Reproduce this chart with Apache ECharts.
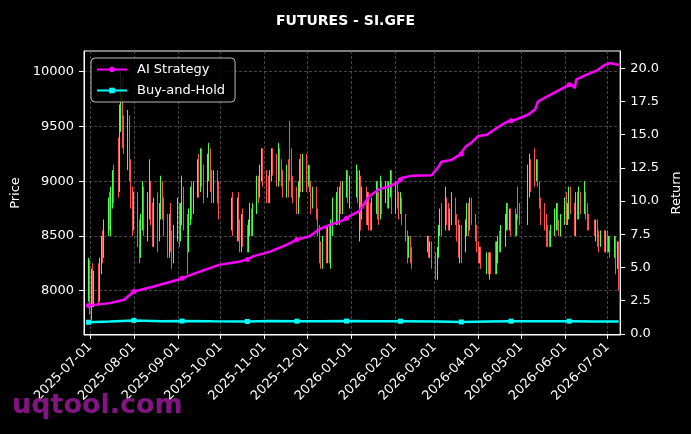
<!DOCTYPE html>
<html><head><meta charset="utf-8">
<script src="https://cdn.jsdelivr.net/npm/echarts@6/dist/echarts.min.js"></script>
<style>html,body{margin:0;padding:0;background:#000}#c{width:691px;height:434px}</style>
</head><body><div id="c"></div>
<script>
// ---- trading calendar (month -> trading days of that month) ----
const tradeMonths = ['2025-06','2025-07','2025-08','2025-09','2025-10','2025-11','2025-12','2026-01','2026-02','2026-03','2026-04','2026-05','2026-06','2026-07'];
const tradeDays = [
  [30],
  [1,2,3,4,7,8,9,10,11,14,15,16,17,18,21,22,23,24,25,28,29,30,31],
  [1,4,5,6,7,8,11,12,13,14,15,18,19,20,21,22,25,26,27,28,29],
  [1,2,3,4,5,8,9,10,11,12,15,16,17,18,19,22,23,24,25,26,29,30],
  [9,10,13,14,15,16,17,20,21,22,23,24,27,28,29,30,31],
  [3,4,5,6,7,10,11,12,13,14,17,18,19,20,21,24,25,26,27,28],
  [1,2,3,4,5,8,9,10,11,12,15,16,17,18,19,22,23,24,25,26,29,30,31],
  [5,6,7,8,9,12,13,14,15,16,19,20,21,22,23,26,27,28,29,30],
  [2,3,4,5,6,9,10,11,12,13,24,25,26,27],
  [2,3,4,5,6,9,10,11,12,13,16,17,18,19,20,23,24,25,26,27,30,31],
  [1,2,3,7,8,9,10,13,14,15,16,17,20,21,22,23,24,27,28,29,30],
  [6,7,8,11,12,13,14,15,18,19,20,21,22,25,26,27,28,29],
  [1,2,3,4,5,8,9,10,11,12,15,16,17,18,22,23,24,25,26,29,30],
  [1,2,3,6,7,8,9]
];
// ---- candles per month: [open, close, low, high] ----
const kJun25 = [[8050,8250,7900,8300]];
const kJul25 = [[8200,7950,7780,8280],[7950,8150,7730,8200],[8150,7900,7850,8250],[7900,8100,7850,8180],[8100,7950,7860,8250],[7950,8250,7900,8300],[8250,8450,8150,8500],[8450,8350,8250,8550],[8350,8600,8300,8650],[8600,8800,8500,8850],[8800,8600,8550,8900],[8600,8850,8500,8950],[8850,9050,8750,9100],[9050,8900,8800,9150],[9350,8950,8850,9400],[8950,9600,8900,9700],[9600,9900,9450,10000],[9900,9500,9300,9950],[9500,9350,9250,9600],[9350,9550,9100,9650],[9550,9100,9000,9600],[9100,8800,8750,9200],[8800,8650,8500,8950]];
const kAug25 = [[8650,8850,8550,8900],[8850,8600,8400,8900],[8550,8350,8250,8650],[8350,8650,8300,8700],[8650,8850,8550,9000],[8850,8600,8500,8950],[8600,8800,8450,8900],[8800,8900,8650,9200],[8900,8700,8600,9000],[8700,8550,8400,8800],[8550,8750,8400,8850],[8750,8500,8350,8900],[8500,8700,8450,8800],[8700,8950,8650,9050],[8950,8750,8650,9000],[8750,8600,8500,8850],[8600,8400,8300,8700],[8400,8600,8300,8700],[8600,8450,8350,8800],[8450,8300,8200,8550],[8300,8550,8250,8600]];
const kSep25 = [[8550,8750,8450,8850],[8750,8500,8400,8800],[8500,8700,8450,8800],[8700,8900,8600,9050],[8900,8650,8550,8950],[8650,8400,8150,8700],[8400,8650,8350,8750],[8650,8900,8600,8950],[8900,8750,8650,9000],[8750,8950,8700,9000],[8950,9150,8850,9200],[9150,8950,8850,9250],[8950,9200,8900,9300],[9200,9100,8950,9300],[9100,8900,8800,9150],[8900,9150,8850,9250],[9150,9250,9000,9350],[9250,9000,8900,9300],[9000,8850,8800,9100],[8850,9050,8800,9100],[9050,8950,8800,9100],[8950,8750,8650,9000]];
const kOct25 = [[8650,8800,8550,8850],[8800,8600,8500,8900],[8600,8750,8450,8850],[8750,8550,8450,8900],[8550,8450,8350,8650],[8450,8650,8350,8700],[8650,8500,8400,8750],[8500,8400,8350,8600],[8400,8600,8350,8650],[8600,8700,8500,8800],[8700,8550,8500,8750],[8550,8750,8500,8800],[8750,9000,8700,9050],[9000,8900,8800,9050],[8900,9100,8850,9150],[9100,9250,9000,9300],[9250,9050,8950,9300]];
const kNov25 = [[9050,8900,8800,9100],[8900,8850,8800,9050],[8850,9050,8800,9100],[9050,9250,9000,9300],[9250,9150,9050,9300],[9150,9000,8950,9250],[9000,9250,8950,9350],[9250,9100,9000,9300],[9100,9050,8950,9200],[9050,8950,8850,9100],[8950,9100,8850,9150],[9100,8950,8850,9200],[9350,9050,9000,9550],[9050,8950,8850,9300],[8950,8850,8800,9050],[8850,8800,8700,8950],[8800,8950,8700,9000],[8950,9150,8850,9200],[9150,8950,8900,9250],[8950,9150,8900,9250]];
const kDec25 = [[9150,9000,8900,9250],[9000,9100,8950,9150],[9100,8950,8900,9150],[8950,8800,8700,9000],[8800,8900,8750,8950],[8900,8700,8650,8950],[8700,8550,8500,8750],[8550,8350,8250,8600],[8350,8250,8200,8450],[8250,8450,8200,8500],[8450,8300,8250,8600],[8300,8550,8250,8600],[8550,8300,8250,8600],[8300,8550,8200,8650],[8550,8700,8500,8850],[8700,8850,8600,8900],[8850,8650,8600,8950],[8650,8900,8600,8950],[8900,8750,8700,9000],[8750,8950,8700,9000],[8950,9050,8850,9100],[9050,8850,8800,9100],[8850,9000,8750,9050]];
const kJan26 = [[9000,9100,8850,9150],[9100,8850,8800,9100],[8850,9050,8450,9100],[9050,8700,8550,9050],[8700,8900,8650,8950],[8900,8700,8600,8950],[8700,8850,8600,8900],[8850,8650,8550,8900],[8650,8600,8550,8800],[8600,8800,8550,8850],[8800,8950,8700,9000],[8950,8750,8650,9000],[8750,8700,8600,8900],[8700,8950,8650,9050],[8950,8850,8700,9000],[8850,8950,8800,9000],[8950,8800,8750,9000],[8800,8950,8750,9000],[8950,9050,8850,9100],[9050,8800,8700,9100]];
const kFeb26 = [[8800,8950,8700,9000],[8950,8850,8750,9000],[8850,8750,8650,8900],[8750,8800,8700,8900],[8800,8650,8600,8850],[8650,8500,8450,8700],[8500,8350,8250,8550],[8350,8450,8300,8500],[8450,8300,8250,8500],[8350,8250,8200,8400],[8400,8450,8350,8500],[8450,8350,8300,8500],[8350,8400,8300,8450],[8400,8250,8200,8450]];
const kMar26 = [[8250,8150,8100,8350],[8150,8350,8100,8400],[8350,8550,8300,8600],[8550,8700,8500,8750],[8700,8600,8500,8800],[8600,8800,8550,8950],[8800,8750,8600,8850],[8750,8600,8550,8800],[8600,8700,8550,8750],[8700,8800,8600,8900],[8800,8650,8600,8850],[8650,8550,8450,8700],[8600,8450,8300,8650],[8300,8550,8250,8600],[8550,8400,8250,8600],[8400,8550,8350,8650],[8550,8700,8500,8800],[8700,8600,8500,8800],[8600,8800,8550,8850],[8800,8650,8600,8850],[8650,8550,8450,8700],[8550,8400,8350,8600]];
const kApr26 = [[8400,8300,8250,8450],[8300,8350,8250,8400],[8350,8250,8200,8400],[8250,8300,8150,8350],[8300,8200,8150,8350],[8200,8300,8100,8350],[8300,8200,8150,8350],[8400,8200,8150,8450],[8200,8300,8150,8450],[8300,8450,8250,8500],[8500,8400,8350,8550],[8400,8500,8350,8600],[8500,8650,8400,8700],[8650,8750,8550,8800],[8750,8600,8550,8800],[8600,8700,8550,8750],[8700,8600,8500,8750],[8600,8550,8500,8750],[8550,8650,8500,8700],[8900,8700,8650,8950],[8700,8650,8600,8800]];
const kMay26 = [[8650,9050,8600,9150],[9050,9150,8850,9250],[9150,9000,8900,9200],[9250,9050,8950,9300],[9050,9150,9000,9200],[9150,9000,8950,9200],[8950,8800,8750,9000],[8800,8700,8600,8850],[8700,8650,8550,8800],[8650,8550,8400,8700],[8550,8500,8400,8600],[8500,8450,8400,8550],[8450,8550,8400,8600],[8550,8650,8500,8750],[8650,8750,8550,8800],[8750,8600,8550,8800],[8600,8550,8500,8650],[8550,8650,8500,8700]];
const kJun26 = [[8650,8800,8600,8850],[8800,8650,8600,8900],[8650,8750,8600,8800],[8750,8900,8650,8950],[8900,8750,8700,8950],[8750,8550,8500,8800],[8550,8850,8500,8900],[8850,8700,8650,8900],[8700,8850,8650,8950],[8850,8750,8700,8900],[8750,8850,8700,9000],[8850,8700,8650,8900],[8700,8650,8550,8800],[8650,8600,8550,8700],[8600,8550,8500,8650],[8550,8600,8450,8650],[8600,8500,8400,8650],[8500,8450,8350,8550],[8450,8500,8400,8550],[8500,8400,8350,8550],[8400,8500,8350,8550]];
const kJul26 = [[8500,8400,8350,8550],[8400,8450,8350,8500],[8450,8350,8300,8500],[8350,8450,8300,8500],[8450,8250,8150,8500],[8250,8400,8200,8450],[8400,8050,8000,8450]];
const monthCandles = [kJun25,kJul25,kAug25,kSep25,kOct25,kNov25,kDec25,kJan26,kFeb26,kMar26,kApr26,kMay26,kJun26,kJul26];

// ---- return curves ----
const aiDates = ['2025-06-30','2025-07-15','2025-07-25','2025-08-01','2025-08-15','2025-09-01','2025-09-04','2025-09-15','2025-09-30','2025-10-15','2025-10-20','2025-10-24','2025-11-05','2025-11-17','2025-11-24','2025-12-03','2025-12-10','2025-12-19','2025-12-26','2025-12-29','2025-12-31','2026-01-07','2026-01-14','2026-01-21','2026-01-28','2026-02-03','2026-02-05','2026-02-06','2026-02-13','2026-02-27','2026-03-04','2026-03-06','2026-03-13','2026-03-19','2026-03-20','2026-03-23','2026-03-27','2026-04-01','2026-04-07','2026-04-14','2026-04-21','2026-04-24','2026-04-28','2026-05-06','2026-05-11','2026-05-13','2026-05-20','2026-05-27','2026-06-03','2026-06-04','2026-06-05','2026-06-08','2026-06-09','2026-06-16','2026-06-23','2026-06-29','2026-07-03','2026-07-09'];
const aiValues = [2.15,2.32,2.57,3.2,3.57,4.08,4.2,4.63,5.2,5.46,5.6,5.84,6.2,6.72,7.1,7.35,7.9,8.28,8.53,8.7,8.86,9.25,10.37,10.9,11.1,11.4,11.6,11.76,11.9,11.95,12.6,12.97,13.1,13.5,13.55,14.1,14.4,14.9,15.0,15.5,15.96,16.05,16.16,16.5,16.9,17.5,17.9,18.3,18.7,18.75,18.8,18.5,19.15,19.5,19.8,20.24,20.4,20.24];
const bhDates = ['2025-06-30','2025-07-15','2025-08-01','2025-08-20','2025-09-04','2025-09-25','2025-10-20','2025-11-05','2025-11-24','2025-12-10','2025-12-29','2026-01-15','2026-02-05','2026-03-02','2026-03-20','2026-04-08','2026-04-24','2026-05-15','2026-06-04','2026-06-22','2026-07-09'];
const bhValues = [0.88,0.93,1.02,0.96,0.97,0.95,0.94,0.97,0.96,0.95,0.97,0.95,0.96,0.94,0.9,0.94,0.96,0.95,0.96,0.94,0.94];
const markerDates = ['2025-06-30','2025-08-01','2025-09-04','2025-10-20','2025-11-24','2025-12-29','2026-02-05','2026-03-20','2026-04-24','2026-06-04'];

// ---- axis ticks ----
const priceTicks = [8000,8500,9000,9500,10000];
const returnTicks = [0,2.5,5,7.5,10,12.5,15,17.5,20];

const ts = s => Date.parse(s + 'T00:00:00Z');
const pad = n => (n < 10 ? '0' : '') + n;
const fmt = v => { const d = new Date(v); return d.getUTCFullYear() + '-' + pad(d.getUTCMonth() + 1) + '-' + pad(d.getUTCDate()); };

const candleData = [];
tradeMonths.forEach((m, i) => {
  tradeDays[i].forEach((d, j) => {
    const k = monthCandles[i][j];
    candleData.push([ts(m + '-' + pad(d)), k[0], k[1], k[2], k[3]]);
  });
});
const markerSet = new Set(markerDates.map(ts));
const aiData = aiDates.map((d, i) => [ts(d), aiValues[i]]);
const bhData = bhDates.map((d, i) => [ts(d), bhValues[i]]);

const FONT = 'DejaVu Sans';
const DAY = 86400000;
const chart = echarts.init(document.getElementById('c'), null, {renderer: 'canvas'});
chart.setOption({
  backgroundColor: '#000',
  useUTC: true,
  animation: false,
  title: {text: 'FUTURES - SI.GFE', left: 'center', top: 9,
    textStyle: {color: '#fff', fontSize: 14, fontWeight: 'bold', fontFamily: FONT}},
  legend: {
    data: ['AI Strategy', 'Buy-and-Hold'], orient: 'vertical', left: 91, top: 58,
    itemWidth: 30, itemHeight: 7, itemGap: 8, padding: [5, 10, 5, 5],
    backgroundColor: 'rgba(0,0,0,0.85)', borderColor: '#bbb', borderWidth: 1, borderRadius: 4,
    textStyle: {color: '#fff', fontSize: 13, fontFamily: FONT, padding: [0, 0, 0, 5]}
  },
  grid: {left: 84, right: 70, top: 51, bottom: 99, show: true, borderColor: '#fff', borderWidth: 1},
  xAxis: {
    type: 'time', min: ts('2025-06-26') + 19 * 3600000, max: ts('2026-07-10'),
    splitNumber: 12, minInterval: 28 * DAY, maxInterval: 31 * DAY,
    axisLine: {lineStyle: {color: '#fff'}},
    axisTick: {show: true, length: 5, lineStyle: {color: '#fff'}},
    axisLabel: {color: '#fff', fontSize: 13, fontFamily: FONT, rotate: 45, margin: 10, formatter: v => fmt(v), hideOverlap: false},
    splitLine: {show: true, lineStyle: {color: '#555', type: [3, 2], width: 0.8}}
  },
  yAxis: [{
    type: 'value', position: 'left', min: 7595, max: 10189, scale: true,
    name: 'Price', nameLocation: 'middle', nameGap: 58,
    nameTextStyle: {color: '#fff', fontSize: 13, fontFamily: FONT},
    axisLine: {show: true, lineStyle: {color: '#fff'}},
    axisTick: {show: true, length: 5, lineStyle: {color: '#fff'}, customValues: priceTicks},
    axisLabel: {color: '#fff', fontSize: 13, fontFamily: FONT, margin: 10, customValues: priceTicks, formatter: v => String(v)},
    splitLine: {show: true, lineStyle: {color: '#555', type: [3, 2], width: 0.8}}
  }, {
    type: 'value', position: 'right', min: -0.08, max: 21.3,
    name: 'Return', nameLocation: 'middle', nameGap: 46,
    nameTextStyle: {color: '#fff', fontSize: 13, fontFamily: FONT},
    axisLine: {show: true, lineStyle: {color: '#fff'}},
    axisTick: {show: true, length: 5, lineStyle: {color: '#fff'}, customValues: returnTicks},
    axisLabel: {color: '#fff', fontSize: 13, fontFamily: FONT, margin: 10, customValues: returnTicks, formatter: v => v.toFixed(1)},
    splitLine: {show: false}
  }],
  series: [{
    type: 'candlestick', name: 'Price', xAxisIndex: 0, yAxisIndex: 0, data: candleData,
    barWidth: 1.3,
    itemStyle: {color: '#4dff4d', color0: '#ff5050', borderColor: '#4dff4d', borderColor0: '#ff5050', borderWidth: 1}
  }, {
    type: 'line', name: 'AI Strategy', yAxisIndex: 1, data: aiData, color: '#ff00ff', z: 5,
    lineStyle: {width: 2.5, color: '#ff00ff'}, itemStyle: {color: '#ff00ff'},
    symbol: 'circle', showSymbol: true, symbolSize: v => markerSet.has(v[0]) ? 5 : 0
  }, {
    type: 'line', name: 'Buy-and-Hold', yAxisIndex: 1, data: bhData, color: '#00ffff', z: 5,
    lineStyle: {width: 2.5, color: '#00ffff'}, itemStyle: {color: '#00ffff'},
    symbol: 'rect', showSymbol: true, symbolSize: v => markerSet.has(v[0]) ? 5 : 0
  }],
  graphic: [{
    type: 'text', left: 12, top: 392, z: 100,
    style: {text: 'uqtool.com', fill: '#8b148b', font: 'bold 27px "DejaVu Sans"', opacity: 0.95}
  }]
});
</script>
</body></html>
